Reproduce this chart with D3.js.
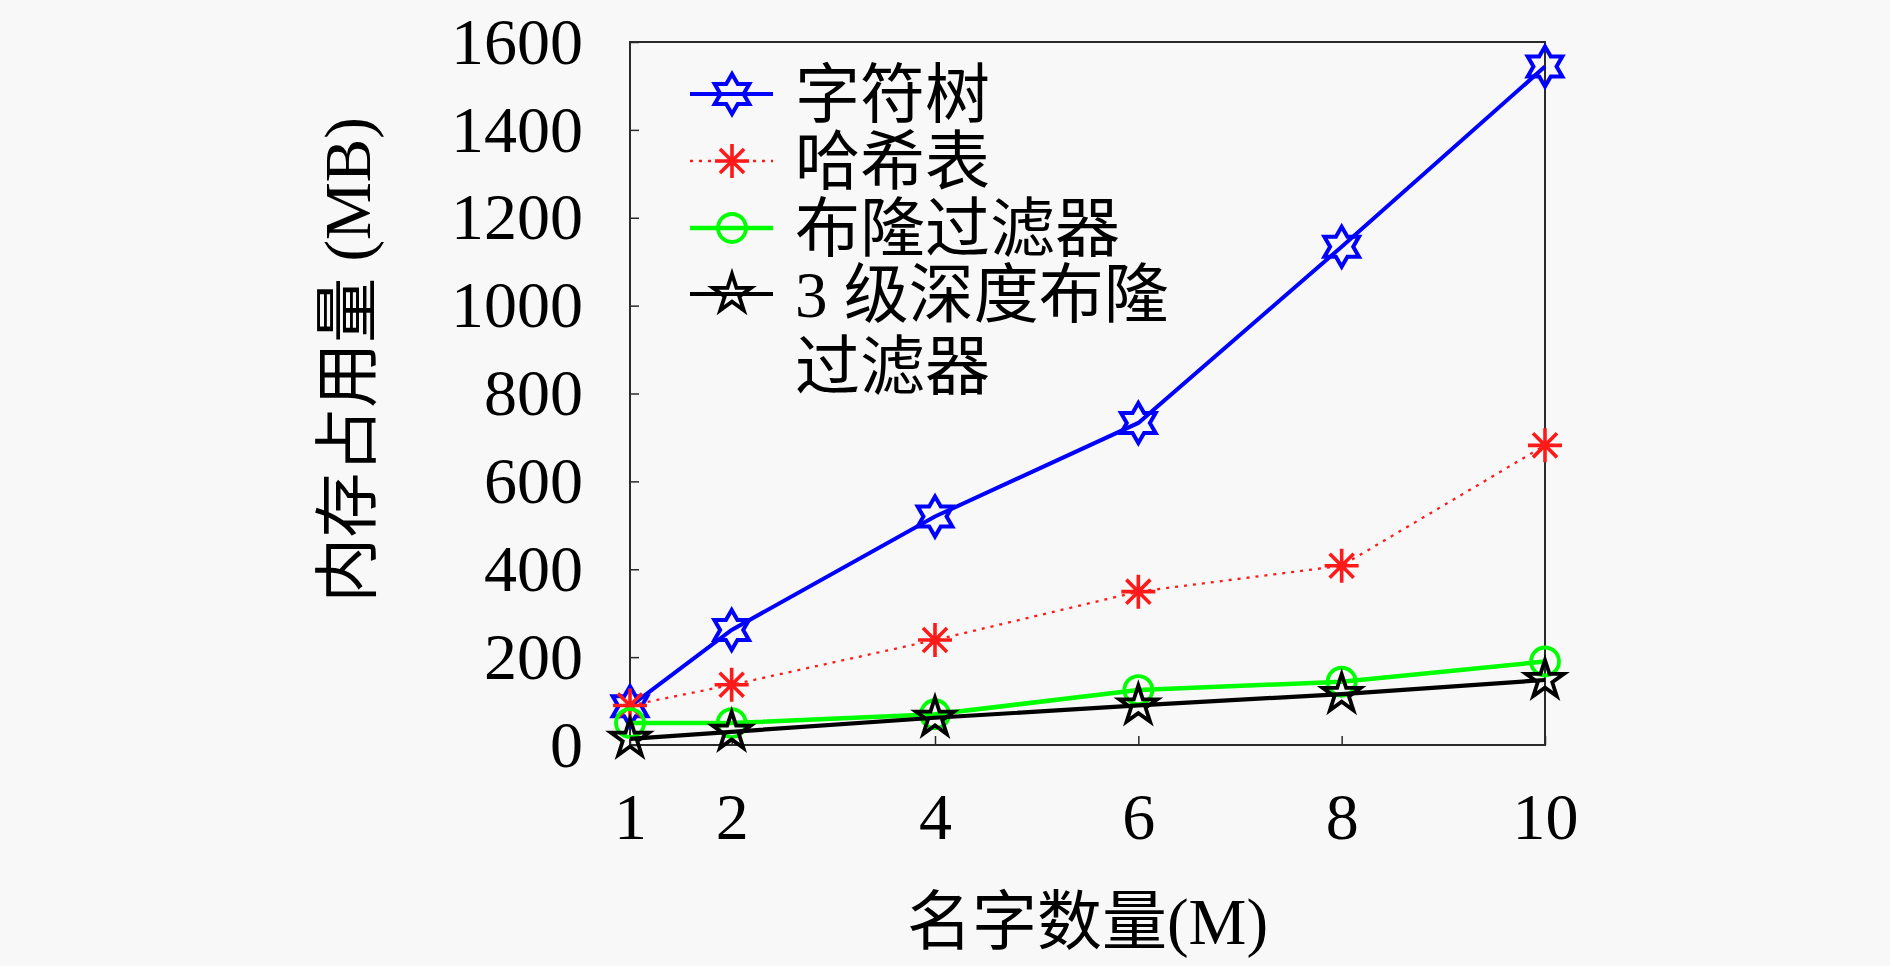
<!DOCTYPE html>
<html>
<head>
<meta charset="utf-8">
<script src="https://cdn.jsdelivr.net/npm/d3@7/dist/d3.min.js"></script>
<style>
  html, body { margin: 0; padding: 0; background: #f8f8f8; }
  svg { display: block; }
</style>
</head>
<body>
<div id="graph"></div>
<script>
    // names (millions) on the x axis
    const names = [1, 2, 4, 6, 8, 10];

    // memory in MB, one array per structure
    const trie = [88, 262, 520, 733, 1134, 1544];
    const hashTable = [90, 137, 239, 349, 408, 682];
    const bloom = [50, 50, 70, 125, 144, 190];
    const deepBloom = [14, 30, 62, 90, 116, 148];

    const xTicks = [1, 2, 4, 6, 8, 10];
    const yTicks = [0, 200, 400, 600, 800, 1000, 1200, 1400, 1600];

    const seriesNames = ['字符树', '哈希表', '布隆过滤器', ['3 级深度布隆', '过滤器']];

    const w = 1890;
    const h = 966;
    const plotLeft = 630, plotRight = 1545, plotTop = 42, plotBottom = 745;
    const font = '"Liberation Serif", "Noto Sans CJK SC", serif';
    const frameColor = '#2a2a2a';

    const svg = d3.select('#graph')
        .append('svg')
        .attr('width', w)
        .attr('height', h)
        .style('background', '#f8f8f8');

    const xScale = d3.scaleLinear()
        .domain([1, 10])
        .range([plotLeft, plotRight]);

    const yScale = d3.scaleLinear()
        .domain([0, 1600])
        .range([plotBottom, plotTop]);

    const xAxis = d3.axisBottom(xScale)
        .tickValues(xTicks)
        .tickSizeInner(-9)
        .tickSizeOuter(0)
        .tickPadding(47)
        .tickFormat(d3.format('d'));

    const yAxis = d3.axisLeft(yScale)
        .tickValues(yTicks)
        .tickSizeInner(-9)
        .tickSizeOuter(0)
        .tickPadding(47)
        .tickFormat(d3.format('d'));

    const gx = svg.append('g')
        .attr('transform', 'translate(0,' + plotBottom + ')')
        .call(xAxis);
    const gy = svg.append('g')
        .attr('transform', 'translate(' + plotLeft + ',0)')
        .call(yAxis);

    [gx, gy].forEach(function (g) {
        g.select('.domain').remove();
        g.selectAll('line').attr('stroke', frameColor).attr('stroke-width', 1.5);
        g.selectAll('text')
            .attr('fill', '#000')
            .style('font-family', font)
            .style('font-size', '66px');
    });

    svg.append('rect')
        .attr('x', plotLeft)
        .attr('y', plotTop)
        .attr('width', plotRight - plotLeft)
        .attr('height', plotBottom - plotTop)
        .attr('fill', 'none')
        .attr('stroke', frameColor)
        .attr('stroke-width', 2);

    // marker shapes
    function starPath(points, outer, inner) {
        const pts = [];
        for (let i = 0; i < points * 2; i++) {
            const r = i % 2 === 0 ? outer : inner;
            const a = -Math.PI / 2 + i * Math.PI / points;
            pts.push([r * Math.cos(a), r * Math.sin(a)]);
        }
        return 'M' + pts.map(p => p[0].toFixed(2) + ',' + p[1].toFixed(2)).join('L') + 'Z';
    }

    function asteriskPath(r) {
        const d = r * Math.SQRT1_2;
        return 'M' + (-r) + ',0L' + r + ',0M0,' + (-r) + 'L0,' + r +
            'M' + (-d) + ',' + (-d) + 'L' + d + ',' + d +
            'M' + (-d) + ',' + d + 'L' + d + ',' + (-d);
    }

    function circlePath(r) {
        return 'M' + r + ',0A' + r + ',' + r + ' 0 1,1 ' + (-r) + ',0A' + r + ',' + r + ' 0 1,1 ' + r + ',0Z';
    }

    const series = [
        { values: trie, color: '#0000ff', width: 4, dash: null, marker: starPath(6, 20, 20 / Math.sqrt(3)), mw: 4 },
        { values: hashTable, color: '#ff1a1a', width: 2.3, dash: '3,6', marker: asteriskPath(17), mw: 3.6 },
        { values: bloom, color: '#00ff00', width: 4.5, dash: null, marker: circlePath(14), mw: 3.8 },
        { values: deepBloom, color: '#000000', width: 4.2, dash: null, marker: starPath(5, 20, 20 * 0.382), mw: 3.8 }
    ];

    const line = d3.line()
        .x((d, i) => xScale(names[i]))
        .y(d => yScale(d));

    series.forEach(function (s) {
        svg.append('path')
            .datum(s.values)
            .attr('d', line)
            .attr('fill', 'none')
            .attr('stroke', s.color)
            .attr('stroke-width', s.width)
            .attr('stroke-dasharray', s.dash);

        svg.selectAll(null)
            .data(s.values)
            .enter()
            .append('path')
            .attr('transform', (d, i) => 'translate(' + xScale(names[i]) + ',' + yScale(d) + ')')
            .attr('d', s.marker)
            .attr('fill', 'none')
            .attr('stroke', s.color)
            .attr('stroke-width', s.mw)
            .attr('stroke-linejoin', 'miter');
    });

    // legend
    const legendY = [94, 161, 228, 294];
    const legend = svg.selectAll('.legend')
        .data(series)
        .enter().append('g')
        .attr('class', 'legend')
        .attr('transform', (d, i) => 'translate(0,' + legendY[i] + ')');

    legend.append('line')
        .attr('x1', 690)
        .attr('x2', 773)
        .attr('stroke', d => d.color)
        .attr('stroke-width', d => d.width)
        .attr('stroke-dasharray', d => d.dash);

    legend.append('path')
        .attr('transform', 'translate(732,0)')
        .attr('d', d => d.marker)
        .attr('fill', 'none')
        .attr('stroke', d => d.color)
        .attr('stroke-width', d => d.mw);

    legend.append('text')
        .attr('x', 795)
        .attr('y', 23)
        .style('font-family', font)
        .style('font-size', '65px')
        .attr('fill', '#000')
        .each(function (d, i) {
            const label = seriesNames[i];
            const t = d3.select(this);
            if (Array.isArray(label)) {
                label.forEach(function (part, k) {
                    t.append('tspan')
                        .attr('x', 795)
                        .attr('dy', k === 0 ? 0 : 72)
                        .text(part);
                });
            } else {
                t.text(label);
            }
        });

    // axis titles
    svg.append('text')
        .attr('x', (plotLeft + plotRight) / 2)
        .attr('y', 944)
        .attr('text-anchor', 'middle')
        .style('font-family', font)
        .style('font-size', '65px')
        .text('名字数量(M)');

    svg.append('text')
        .attr('transform', 'translate(370,360) rotate(-90)')
        .attr('text-anchor', 'middle')
        .style('font-family', font)
        .style('font-size', '65px')
        .text('内存占用量 (MB)');
</script>
</body>
</html>
